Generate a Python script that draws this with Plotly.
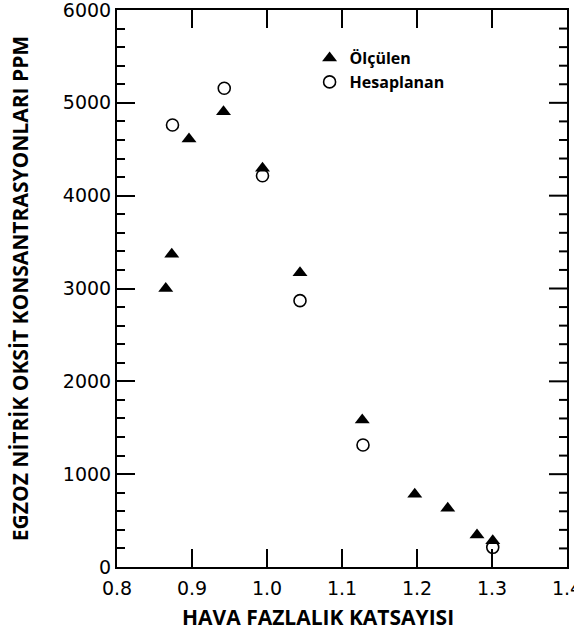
import plotly.graph_objects as go

# Data
olculen_x = [0.865, 0.873, 0.896, 0.942, 0.994, 1.044, 1.127, 1.197, 1.241, 1.280, 1.301]
olculen_y = [3000, 3370, 4610, 4905, 4295, 3170, 1584, 783, 632, 345, 283]
hesap_x = [0.874, 0.943, 0.994, 1.044, 1.128, 1.301]
hesap_y = [4761, 5157, 4215, 2869, 1314, 212]

x_ticks = [0.8, 0.9, 1.0, 1.1, 1.2, 1.3, 1.4]
x_labels = ["0.8", "0.9", "1.0", "1.1", "1.2", "1.3", "1.4"]
y_ticks = [0, 1000, 2000, 3000, 4000, 5000, 6000]
y_labels = ["0", "1000", "2000", "3000", "4000", "5000", "6000"]
y_minor_step = 200

fig = go.Figure()
fig.add_trace(go.Scatter(
    x=hesap_x, y=hesap_y, mode="markers", name="Hesaplanan", legendrank=2,
    marker=dict(symbol="circle-open", size=12, color="black", line=dict(width=1.6, color="black")),
))
fig.add_trace(go.Scatter(
    x=olculen_x, y=olculen_y, mode="markers", name="Ölçülen", legendrank=1,
    marker=dict(symbol="triangle-up", size=13, color="black", line=dict(width=0)),
))

tick_font = dict(family="DejaVu Sans", size=19, color="black")
title_font = dict(family="Open Sans", size=21, color="black", weight="bold")

# plot-area size in pixels (for tick lengths on the mirrored sides)
W, H = 574, 633
ML, MR, MT, MB = 117, 7, 10, 66
pw, ph = W - ML - MR, H - MT - MB
major_len, minor_len = 18, 8

shapes = []
# top mirrored ticks (interior major x ticks)
for v in x_ticks[1:-1]:
    shapes.append(dict(type="line", xref="x", yref="paper", x0=v, x1=v,
                       y0=1, y1=1 - major_len / ph, line=dict(color="black", width=2), layer="above"))
# right mirrored ticks (major + minor y ticks)
ymin, ymax = y_ticks[0], y_ticks[-1]
for v in range(ymin + y_minor_step, ymax, y_minor_step):
    ln = major_len if v in y_ticks else minor_len
    shapes.append(dict(type="line", xref="paper", yref="y", x0=1, x1=1 - ln / pw,
                       y0=v, y1=v, line=dict(color="black", width=2), layer="above"))

fig.update_layout(
    width=W, height=H,
    margin=dict(l=ML, r=MR, t=MT, b=MB, autoexpand=False),
    paper_bgcolor="white", plot_bgcolor="white",
    showlegend=True,
    legend=dict(
        x=0.428, y=0.944, xanchor="left", yanchor="top",
        bgcolor="rgba(0,0,0,0)", borderwidth=0,
        font=dict(family="Open Sans", size=16, color="black", weight="bold"),
        itemwidth=30, tracegroupgap=0,
    ),
    xaxis=dict(
        range=[0.8, 1.4], tickvals=x_ticks, ticktext=x_labels,
        ticks="inside", ticklen=major_len, tickwidth=2, tickcolor="black",
        showline=True, linecolor="black", linewidth=2, mirror=True,
        showgrid=False, zeroline=False, tickfont=tick_font,
        ticklabeloverflow="allow", ticklabelstandoff=3, automargin=False,
    ),
    yaxis=dict(
        range=[0, 6000], tickvals=y_ticks, ticktext=y_labels,
        ticks="inside", ticklen=major_len, tickwidth=2, tickcolor="black",
        minor=dict(dtick=y_minor_step, ticks="inside", ticklen=minor_len, tickwidth=2,
                   tickcolor="black", showgrid=False),
        showline=True, linecolor="black", linewidth=2, mirror=True,
        showgrid=False, zeroline=False, tickfont=tick_font,
        ticklabeloverflow="allow", automargin=False,
        title=dict(text="EGZOZ NİTRİK OKSİT KONSANTRASYONLARI PPM", font=title_font, standoff=28),
    ),
    shapes=shapes,
    annotations=[dict(
        text="HAVA FAZLALIK KATSAYISI", xref="paper", yref="paper",
        x=(318 - 117) / 450, y=-(617 - 567) / 557, xanchor="center", yanchor="middle",
        showarrow=False, font=title_font,
    )],
)

fig.write_html("out.html")
